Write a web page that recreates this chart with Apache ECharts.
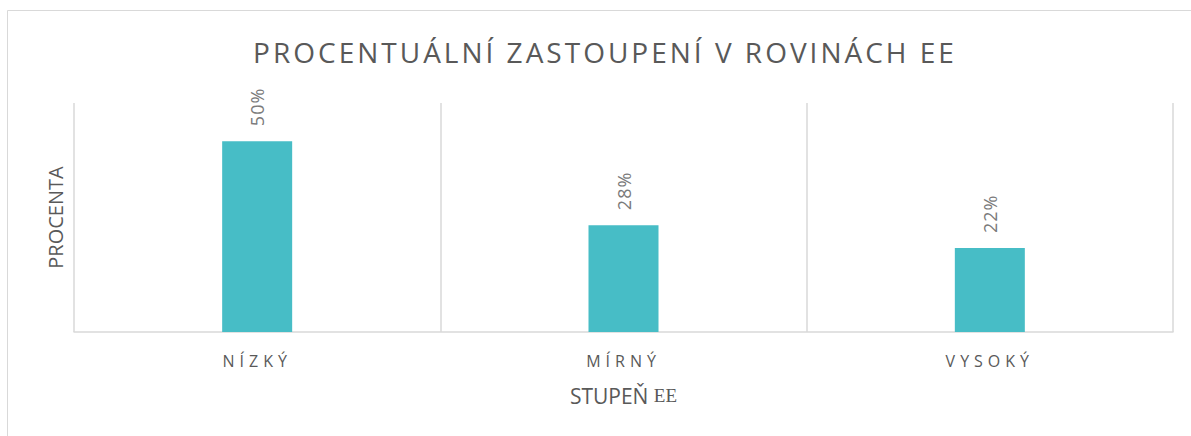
<!DOCTYPE html>
<html>
<head>
<meta charset="utf-8">
<script src="https://cdn.jsdelivr.net/npm/echarts@6/dist/echarts.min.js"></script>
<style>
  html, body { margin: 0; padding: 0; background: #fff; }
  #chart { width: 1191px; height: 436px; }
  /* spaced-out caps like the original chart */
  #chart text[style*="28px"] { letter-spacing: 3px; }
  #chart text[style*="16px"] { letter-spacing: 5px; }
  #chart text[style*="18px"] { letter-spacing: 1px; }
</style>
</head>
<body>
<div id="chart"></div>
<script>
// data
var categories = ['NÍZKÝ', 'MÍRNÝ', 'VYSOKÝ'];
var percents = [50, 28, 22];
var yMax = 60;

var chart = echarts.init(document.getElementById('chart'), null, { renderer: 'svg' });

var option = {
  animation: false,
  textStyle: { fontFamily: 'Open Sans' },
  title: {
    text: 'PROCENTUÁLNÍ ZASTOUPENÍ V ROVINÁCH EE',
    left: 605,
    top: 38,
    padding: 0,
    textAlign: 'center',
    textStyle: { fontSize: 28, fontWeight: 'normal', color: '#595959' }
  },
  graphic: [{
    type: 'rect',
    silent: true,
    z: -1,
    shape: { x: 7.5, y: 10.5, width: 1300, height: 600 },
    style: { fill: 'none', stroke: '#d9d9d9', lineWidth: 1 }
  }],
  grid: { left: 74, right: 18, top: 103, bottom: 104 },
  xAxis: {
    type: 'category',
    data: categories,
    name: 'STUPEŇ {ee|EE}',
    nameLocation: 'middle',
    nameGap: 53,
    nameTextStyle: {
      fontSize: 21, color: '#595959',
      rich: { ee: { fontFamily: 'Liberation Serif', fontSize: 19, color: '#595959' } }
    },
    axisLine: { lineStyle: { color: '#d9d9d9', width: 1.5 } },
    axisTick: { show: false },
    axisLabel: { margin: 21, fontSize: 16, color: '#595959' },
    splitLine: { show: true, lineStyle: { color: '#d9d9d9', width: 1.5 } }
  },
  yAxis: {
    type: 'value',
    min: 0,
    max: yMax,
    name: 'PROCENTA',
    nameLocation: 'middle',
    nameGap: 9,
    nameTextStyle: { fontSize: 20, color: '#595959' },
    axisLine: { show: false },
    axisTick: { show: false },
    axisLabel: { show: false },
    splitLine: { show: false }
  },
  series: [{
    type: 'bar',
    data: percents,
    barWidth: 70,
    itemStyle: { color: '#47bdc6' },
    label: {
      show: true,
      position: 'top',
      rotate: 90,
      align: 'left',
      verticalAlign: 'middle',
      distance: 15,
      fontSize: 18,
      color: '#7a7a7a',
      formatter: function (p) { return p.value + '%'; }
    }
  }]
};

chart.setOption(option);
</script>
</body>
</html>
